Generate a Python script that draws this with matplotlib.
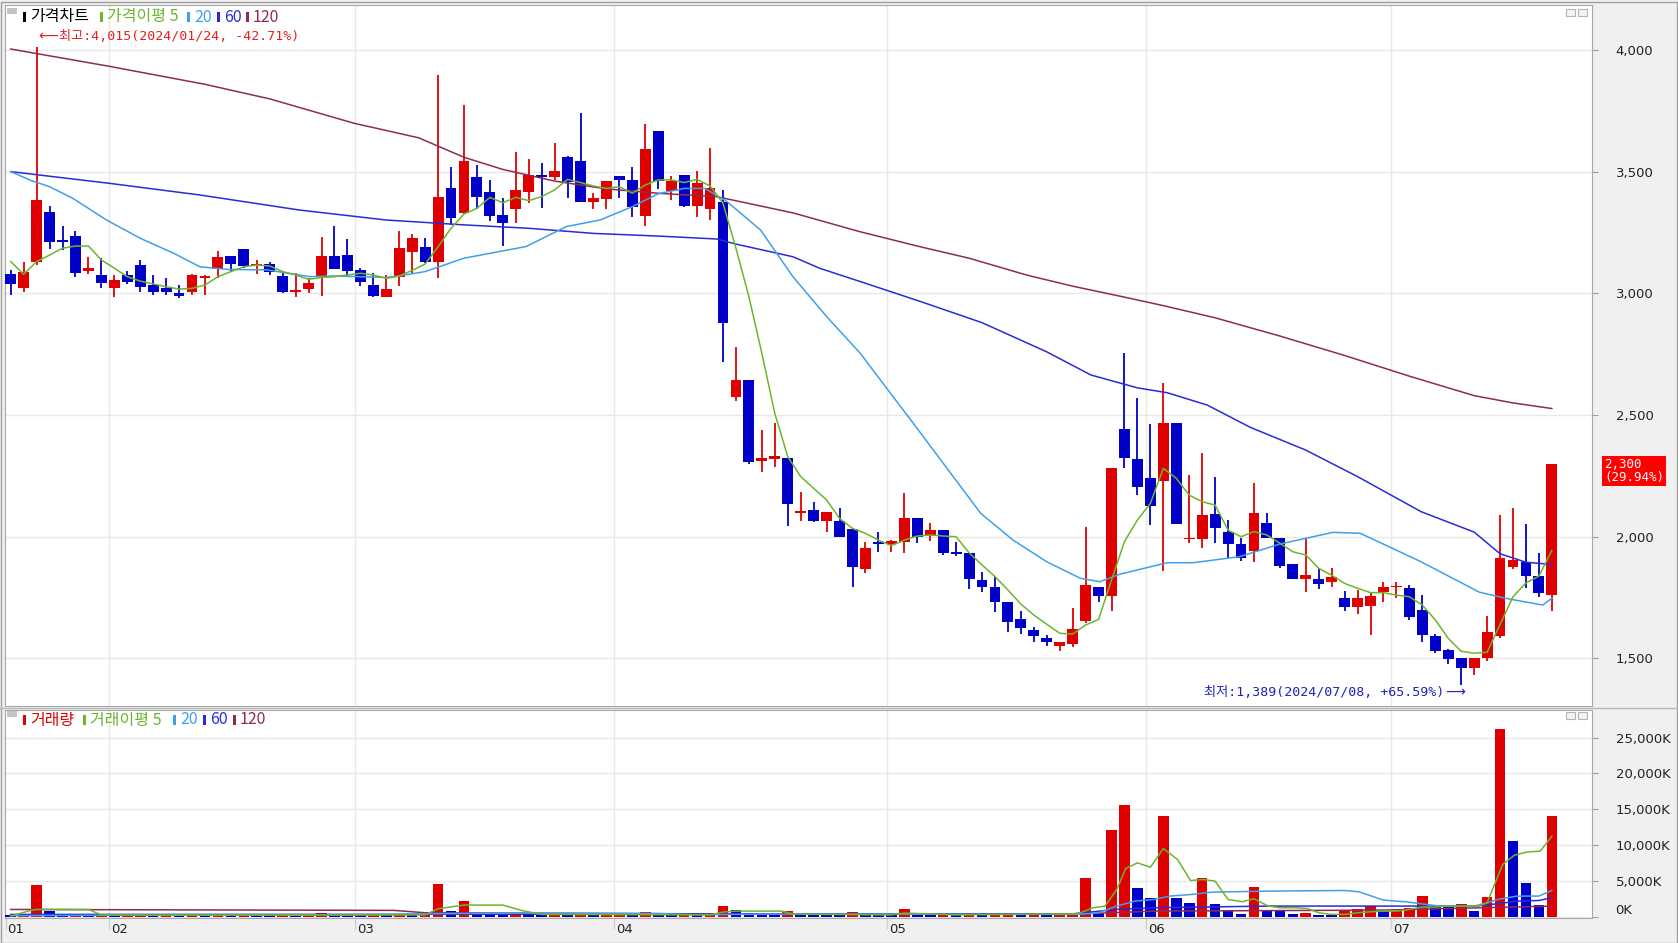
import matplotlib
matplotlib.use("Agg")
import matplotlib.pyplot as plt
import matplotlib.transforms as mtransforms
from matplotlib.patches import Rectangle
from matplotlib.lines import Line2D

W, H = 1678, 943
KR = ['Noto Sans CJK KR', 'DejaVu Sans']
MONO_KR = ['DejaVu Sans Mono', 'Noto Sans CJK KR', 'DejaVu Sans']

# ---- daily candles (2024-01-22 .. 2024-07-17) ----
opens = [3080, 3021, 3131, 3334, 3218, 3235, 3094, 3076, 3021, 3076,
         3117, 3035, 3021, 3001, 3008, 3065, 3099, 3154, 3182, 3116,
         3121, 3072, 3008, 3017, 3066, 3154, 3158, 3097, 3035, 2987,
         3069, 3169, 3192, 3131, 3432, 3330, 3478, 3419, 3323, 3346,
         3419, 3487, 3478, 3560, 3545, 3378, 3387, 3483, 3467, 3320,
         3668, 3423, 3487, 3361, 3347, 3378, 2576, 2644, 2311, 2319,
         2325, 2096, 2110, 2066, 2064, 2032, 1866, 1978, 1970, 1977,
         2075, 2007, 2027, 1936, 1934, 1822, 1794, 1733, 1662, 1616,
         1585, 1552, 1557, 1655, 1794, 1757, 2443, 2319, 2243, 2230,
         2469, 1989, 1989, 2093, 2021, 1970, 1942, 2058, 1996, 1888,
         1826, 1826, 1815, 1746, 1712, 1716, 1771, 1792, 1788, 1700,
         1591, 1534, 1502, 1462, 1500, 1591, 1876, 1895, 1838, 1762]
highs = [3097, 3131, 4015, 3360, 3278, 3257, 3149, 3145, 3076, 3093,
         3138, 3076, 3062, 3035, 3080, 3076, 3175, 3154, 3182, 3138,
         3131, 3090, 3086, 3062, 3234, 3278, 3226, 3104, 3083, 3076,
         3257, 3245, 3227, 3898, 3519, 3775, 3528, 3467, 3391, 3580,
         3552, 3538, 3617, 3565, 3741, 3415, 3462, 3483, 3519, 3696,
         3668, 3483, 3487, 3504, 3597, 3426, 2779, 2644, 2439, 2469,
         2325, 2185, 2141, 2100, 2117, 2032, 1977, 2018, 1986, 2178,
         2075, 2058, 2027, 1977, 1934, 1856, 1838, 1733, 1694, 1630,
         1596, 1566, 1708, 2038, 1794, 2284, 2755, 2569, 2462, 2633,
         2469, 2254, 2345, 2247, 2069, 1993, 2222, 2099, 1996, 1888,
         1989, 1870, 1873, 1778, 1781, 1767, 1812, 1812, 1800, 1762,
         1600, 1540, 1502, 1502, 1673, 2091, 2120, 2053, 1933, 2300]
lows = [2994, 3005, 3117, 3182, 3179, 3069, 3079, 3021, 2987, 3039,
        3008, 2994, 2994, 2980, 2994, 2994, 3062, 3090, 3104, 3079,
        3076, 3001, 2987, 3001, 2990, 3099, 3066, 3032, 2987, 2987,
        3032, 3083, 3124, 3062, 3282, 3327, 3346, 3298, 3197, 3288,
        3371, 3350, 3467, 3391, 3378, 3346, 3346, 3391, 3316, 3279,
        3428, 3384, 3357, 3316, 3302, 2720, 2559, 2299, 2267, 2288,
        2045, 2064, 2062, 2021, 2000, 1792, 1849, 1938, 1938, 1932,
        1973, 1984, 1925, 1922, 1784, 1774, 1692, 1610, 1600, 1568,
        1552, 1531, 1548, 1644, 1733, 1696, 2281, 2171, 2048, 1860,
        2052, 1973, 1952, 1973, 1914, 1901, 1897, 1993, 1870, 1825,
        1774, 1783, 1794, 1696, 1682, 1596, 1733, 1746, 1657, 1567,
        1520, 1477, 1389, 1433, 1487, 1582, 1867, 1791, 1753, 1696]
closes = [3039, 3087, 3384, 3213, 3212, 3083, 3104, 3042, 3056, 3049,
          3028, 3008, 3008, 2991, 3076, 3073, 3149, 3121, 3113, 3121,
          3090, 3008, 3014, 3042, 3154, 3099, 3094, 3049, 2990, 3018,
          3186, 3230, 3128, 3395, 3309, 3545, 3398, 3320, 3288, 3426,
          3487, 3478, 3504, 3460, 3378, 3391, 3462, 3467, 3357, 3593,
          3464, 3464, 3361, 3453, 3435, 2877, 2644, 2308, 2322, 2333,
          2133, 2106, 2064, 2100, 2000, 1874, 1955, 1970, 1982, 2075,
          2000, 2027, 1932, 1929, 1825, 1794, 1733, 1651, 1623, 1593,
          1568, 1566, 1620, 1801, 1757, 2284, 2322, 2203, 2126, 2469,
          2052, 1996, 2089, 2034, 1970, 1911, 2099, 1993, 1881, 1825,
          1842, 1804, 1836, 1712, 1746, 1756, 1792, 1797, 1671, 1597,
          1529, 1496, 1462, 1502, 1610, 1914, 1905, 1838, 1770, 2300]

# volume in thousands of shares
volume = [280, 300, 4440, 900, 400, 420, 300, 350, 200, 250,
          300, 200, 220, 180, 260, 230, 280, 230, 300, 250,
          220, 260, 200, 240, 600, 400, 300, 250, 280, 230,
          350, 300, 420, 4630, 830, 2220, 600, 400, 350, 420,
          380, 300, 330, 300, 350, 260, 300, 350, 280, 700,
          400, 300, 350, 260, 300, 1530, 970, 600, 350, 300,
          830, 600, 350, 300, 280, 700, 300, 260, 250, 1160,
          350, 300, 320, 250, 300, 250, 600, 620, 300, 320,
          250, 300, 600, 5460, 600, 12080, 15560, 4070, 2690, 14030,
          2690, 1900, 5460, 1760, 830, 370, 4210, 830, 820, 370,
          600, 230, 220, 925, 1160, 1530, 830, 900, 1200, 3000,
          1530, 1500, 1760, 830, 2820, 26160, 10560, 4770, 1620, 14030]

# price moving averages
ma5 = [3131, 3079, 3131, 3158, 3186, 3195, 3195, 3138, 3104, 3069,
       3051, 3039, 3028, 3018, 3021, 3035, 3069, 3090, 3110, 3117,
       3113, 3090, 3076, 3058, 3066, 3069, 3076, 3083, 3076, 3062,
       3072, 3095, 3121, 3192, 3268, 3327, 3350, 3395, 3373, 3395,
       3382, 3398, 3426, 3469, 3456, 3442, 3432, 3439, 3412, 3446,
       3467, 3467, 3456, 3469, 3442, 3371, 3186, 2987, 2754, 2507,
       2329, 2247, 2199, 2151, 2075, 2034, 2014, 1986, 1963, 1986,
       2003, 2007, 2003, 2000, 1934, 1884, 1836, 1781, 1723, 1678,
       1640, 1603, 1600, 1637, 1660, 1822, 1980, 2069, 2137, 2281,
       2240, 2171, 2144, 2130, 2027, 2000, 2021, 2007, 1973, 1938,
       1925, 1870, 1842, 1808, 1788, 1770, 1770, 1760, 1753, 1719,
       1658, 1582, 1529, 1521, 1525, 1639, 1753, 1810, 1838, 1943]
ma20_x = [0, 1.6, 3, 4.8, 7.4, 10, 12.6, 14.6, 16.7, 19.8, 23.1, 25, 29, 30,
          32, 35, 37.7, 39.8, 42.9, 45.5, 48, 50, 52, 53.6, 55.3, 57.9, 60.4,
          63, 65.6, 67.5, 69.7, 72.3, 74.9, 77.4, 80, 82.6, 84.1, 85.6, 87.2,
          89.3, 91.3, 94.9, 98, 102.1, 104.2, 106.7, 108.9, 113.4, 115.4,
          118.3, 119]
ma20 = [3501, 3464, 3439, 3391, 3302, 3227, 3165, 3110, 3099, 3097, 3069,
        3072, 3066, 3072, 3090, 3145, 3172, 3193, 3275, 3302, 3357, 3410,
        3432, 3432, 3378, 3261, 3069, 2905, 2754, 2620, 2466, 2281, 2096,
        1986, 1897, 1829, 1815, 1845, 1866, 1893, 1893, 1918, 1970, 2018,
        2014, 1952, 1897, 1772, 1747, 1719, 1747]
ma60_x = [0, 7.6, 14.6, 22.3, 29, 35, 40, 45, 50, 54.5, 56, 60.4, 62.5,
          65.6, 70.3, 75, 80, 83.4, 87, 89.3, 92.4, 95.7, 100, 104, 108.9,
          113, 115, 117, 119]
ma60 = [3501, 3453, 3405, 3343, 3302, 3282, 3268, 3247, 3236, 3224, 3203,
        3151, 3103, 3049, 2966, 2880, 2760, 2665, 2612, 2592, 2541, 2450,
        2356, 2247, 2103, 2019, 1930, 1895, 1886]
ma120_x = [0, 7.5, 15, 20, 26.5, 31.5, 35, 38, 42, 46, 50, 54.5, 57, 60.5,
           65.5, 70, 74, 78.5, 82, 86, 89, 93, 98, 103, 108, 113, 116, 119]
ma120 = [4005, 3935, 3860, 3800, 3700, 3640, 3560, 3510, 3462, 3430, 3412,
         3398, 3370, 3330, 3255, 3195, 3145, 3075, 3030, 2985, 2950, 2900,
         2825, 2745, 2660, 2580, 2550, 2527]

# volume moving averages (K)
vma5_x = [0, 1.5, 2, 6, 7, 15, 32, 33, 35, 38, 39.5, 41, 54, 55, 56, 59.5,
          60.5, 68, 69, 73, 82.4, 83.6, 84.5, 85.4, 86.1, 87, 88, 89, 90.1,
          91.1, 92.1, 93, 94, 95.1, 96, 97.1, 98, 99.1, 100.1, 101, 102, 103,
          104, 105, 106, 107, 108, 109, 110, 111, 112, 113, 114, 115.2,
          116.1, 117.1, 118.1, 119]
vma5 = [140, 900, 1060, 1060, 300, 280, 300, 1160, 1670, 1670, 900, 370,
        300, 700, 830, 830, 400, 300, 560, 300, 460, 1300, 1530, 3840, 6760,
        7550, 6940, 9540, 8010, 5090, 5230, 5000, 2450, 2130, 2550, 1530,
        1300, 1300, 1200, 600, 370, 370, 600, 740, 830, 830, 1060, 1390,
        1390, 1530, 1530, 1530, 1990, 7310, 8610, 9070, 9170, 11250]
vma20_x = [0, 10, 22, 26, 33, 40, 50, 53, 60, 70, 82.4, 84, 85.4, 86.8,
           88.3, 89.5, 91.2, 92.7, 97.1, 103, 104.1, 106, 107.7, 110.3,
           113.3, 114.8, 116.3, 118, 119]
vma20 = [200, 260, 300, 280, 480, 560, 500, 330, 420, 400, 370, 600, 1530,
         2220, 2450, 2920, 3150, 3470, 3610, 3700, 3520, 2360, 2130, 1530,
         1530, 2450, 2920, 2920, 3700]
vma60_x = [0, 30, 45, 60, 82, 85.4, 88.3, 97.1, 106, 113, 114.8, 116.3, 118, 119]
vma60 = [370, 380, 420, 400, 460, 1060, 1300, 1530, 1530, 1530, 1850, 2220,
         2310, 2690]
vma120_x = [0, 29.6, 32, 60, 82, 88.3, 106, 119]
vma120 = [1060, 930, 600, 400, 400, 830, 970, 1530]

price_ticks = [1500, 2000, 2500, 3000, 3500, 4000]
vol_ticks = [0, 5000, 10000, 15000, 20000, 25000]
month_pos = [-0.4, 7.6, 26.6, 46.6, 67.7, 87.65, 106.6]
month_labels = ['01', '02', '03', '04', '05', '06', '07']

RED = '#e00000'
BLUE = '#0000c8'
C5 = '#6cb52c'
C20 = '#3fa0e8'
C60 = '#2a2ad8'
C120 = '#8e2a5a'
GRID = '#e8e8e8'
FRAME = '#a8a8a8'


def fx(x):
    return x / W


def fy(y):
    return 1 - y / H


fig = plt.figure(figsize=(W / 100, H / 100), dpi=100, facecolor='#f0f0f0')
ax = fig.add_axes([fx(5), fy(706), (1592 - 5) / W, (706 - 5) / H])
axv = fig.add_axes([fx(5), fy(918), (1592 - 5) / W, (918 - 710) / H])

n = len(closes)
idx = list(range(n))

# ---- price panel ----
cols = [RED if c >= o else BLUE for o, c in zip(opens, closes)]
bottoms = [min(o, c) for o, c in zip(opens, closes)]
heights = [max(abs(c - o), 6) for o, c in zip(opens, closes)]
ax.vlines(idx, lows, highs, colors=cols, lw=1.3, zorder=3)
ax.bar(idx, heights, bottom=bottoms, width=0.84, color=cols, lw=0, zorder=4)

ax.plot(ma120_x, ma120, color=C120, lw=1.1, zorder=5)
ax.plot(ma60_x, ma60, color=C60, lw=1.1, zorder=5)
ax.plot(ma20_x, ma20, color=C20, lw=1.1, zorder=5)
ax.plot(idx, ma5, color=C5, lw=1.1, zorder=6)

ax.set_xlim(-0.44, 122.1)
ax.set_ylim(1304, 4186)
ax.set_yticks(price_ticks)
ax.set_yticklabels([f'{v:,}' for v in price_ticks])
ax.yaxis.tick_right()
ax.tick_params(axis='y', length=4, width=0.8, color='#a0a0a0', pad=13,
               labelsize=9.5, labelcolor='#222222')
ax.tick_params(axis='x', bottom=False, labelbottom=False)
ax.grid(axis='y', color=GRID, lw=1, zorder=0)
for p in month_pos[1:]:
    ax.axvline(p, color=GRID, lw=1, zorder=0)
for s in ax.spines.values():
    s.set_color(FRAME)

# high / low markers: long arrow glyph in DejaVu Sans, text in mono + CJK
ax.text(2.12, 4055, '⟵', color='#e82020', fontsize=10, family='DejaVu Sans',
        ha='left', va='center', zorder=8)
ax.text(3.7, 4055, '최고:4,015(2024/01/24, -42.71%)', color='#e82020',
        fontsize=9.5, family=MONO_KR, ha='left', va='center', zorder=8)
ax.text(112.3, 1361, '⟶', color='#2020c0', fontsize=10, family='DejaVu Sans',
        ha='right', va='center', zorder=8)
ax.text(110.7, 1361, '최저:1,389(2024/07/08, +65.59%)', color='#2020c0',
        fontsize=9.5, family=MONO_KR, ha='right', va='center', zorder=8)

fig.text(fx(1604), fy(458), '2,300\n(29.94%)', color='white', fontsize=9,
         family='DejaVu Sans Mono', ha='left', va='top', linespacing=1.05,
         bbox=dict(boxstyle='square,pad=0.15', fc='#ff0000', ec='none'))

# ---- volume panel ----
vcols = [BLUE] + [RED if volume[i] > volume[i - 1] else BLUE for i in range(1, n)]
axv.bar(idx, volume, width=0.82, color=vcols, lw=0, zorder=3)
axv.plot(vma120_x, vma120, color=C120, lw=1.1, zorder=5)
axv.plot(vma60_x, vma60, color=C60, lw=1.1, zorder=5)
axv.plot(vma20_x, vma20, color=C20, lw=1.1, zorder=5)
axv.plot(vma5_x, vma5, color=C5, lw=1.1, zorder=6)

axv.set_xlim(-0.44, 122.1)
axv.set_ylim(-130, 28830)
axv.set_yticks(vol_ticks)
axv.set_yticklabels([f'{v:,}K' for v in vol_ticks])
axv.yaxis.tick_right()
axv.tick_params(axis='y', length=4, width=0.8, color='#a0a0a0', pad=13,
                labelsize=9.5, labelcolor='#222222')
axv.get_yticklabels()[0].set_va('bottom')
axv.set_xticks(month_pos)
axv.tick_params(axis='x', length=8, width=1, color='#cfcfcf', labelbottom=False)
axv.grid(axis='y', color=GRID, lw=1, zorder=0)
for p in month_pos[1:]:
    axv.axvline(p, color=GRID, lw=1, zorder=0)
for s in axv.spines.values():
    s.set_color(FRAME)

trans = mtransforms.offset_copy(axv.get_xaxis_transform(), fig=fig, x=2, y=-5,
                                units='dots')
for p, lab in zip(month_pos, month_labels):
    axv.text(p, 0, lab, transform=trans, ha='left', va='top', fontsize=9.5,
             color='#222222')

# ---- legends ----
def legend(items, yc):
    fig.patches.append(Rectangle((fx(7), fy(yc - 3)), 10 / W, 6 / H,
                                 transform=fig.transFigure, fc='#c4c4c4',
                                 ec='none'))
    for x, txt, color in items:
        fig.patches.append(Rectangle((fx(x), fy(yc + 5)), 3 / W, 10 / H,
                                     transform=fig.transFigure, fc=color,
                                     ec='none'))
        fig.text(fx(x + 7), fy(yc), txt, color=color, fontsize=11.5,
                 family=KR, ha='left', va='center')


legend([(23, '가격차트', '#000000'), (100, '가격이평 5', C5),
        (187, '20', C20), (217, '60', C60), (246, '120', C120)], 17)
legend([(23, '거래량', RED), (83, '거래이평 5', C5),
        (173, '20', C20), (203, '60', C60), (233, '120', C120)], 720)

# little window icons top right of each panel
for yt in (9, 712):
    for xl in (1566, 1578):
        fig.patches.append(Rectangle((fx(xl), fy(yt + 7)), 9 / W, 7 / H,
                                     transform=fig.transFigure, fc='#f4f4f4',
                                     ec='#b4b4b4', lw=0.8))

# panel separator and outer frame
fig.add_artist(Line2D([0, 1], [fy(708), fy(708)], color='#b8b8b8', lw=1))
fig.add_artist(Rectangle((0.0005, 0.0005), 0.999, 0.997, transform=fig.transFigure,
                         fill=False, ec='#a0a0a0', lw=1))

fig.savefig('out.png', dpi=100, facecolor=fig.get_facecolor())
